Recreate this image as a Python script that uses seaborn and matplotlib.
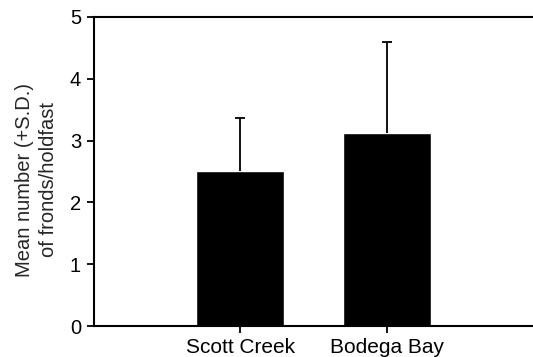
import pandas as pd
import matplotlib
matplotlib.use('Agg')
import matplotlib.pyplot as plt
import seaborn as sns

# data
sites = ['Scott Creek', 'Bodega Bay']
mean_fronds = [2.51, 3.12]
sd_fronds = [0.85, 1.47]

df = pd.DataFrame({'site': sites, 'mean': mean_fronds, 'sd': sd_fronds})

sns.set_theme(style='ticks')
plt.rcParams['font.family'] = ['Liberation Sans', 'DejaVu Sans']

fig = plt.figure(figsize=(5.33, 3.57), dpi=100)
ax = fig.add_axes([0.1755, 0.0868, 0.826, 0.8656])

sns.barplot(data=df, x='site', y='mean', color='black', width=0.6,
            saturation=1, errorbar=None, ax=ax)
eb = ax.errorbar(range(len(df)), df['mean'], yerr=[[0] * len(df), df['sd']],
                 fmt='none', ecolor='black', elinewidth=1.3, capsize=3.4,
                 capthick=1.3, zorder=1)
# only the upper cap is shown
eb[1][0].set_visible(False)

ax.set_xlim(-1, 2)
ax.set_ylim(0, 5)
ax.set_yticks([0, 1, 2, 3, 4, 5])
ax.set_xlabel('')
ax.set_ylabel('Mean number (+S.D.)\nof fronds/holdfast', fontsize=14.5,
              linespacing=1.3)
ax.yaxis.set_label_coords(-0.081, 0.474)
ax.tick_params(axis='both', length=5, width=1.3, color='black',
               labelcolor='black')
ax.tick_params(axis='y', labelsize=14.5, pad=4)
ax.tick_params(axis='x', labelsize=15)

for side in ['left', 'bottom', 'top']:
    ax.spines[side].set_linewidth(1.5)
    ax.spines[side].set_color('black')
ax.spines['right'].set_visible(False)

fig.savefig('out.png', dpi=100)
